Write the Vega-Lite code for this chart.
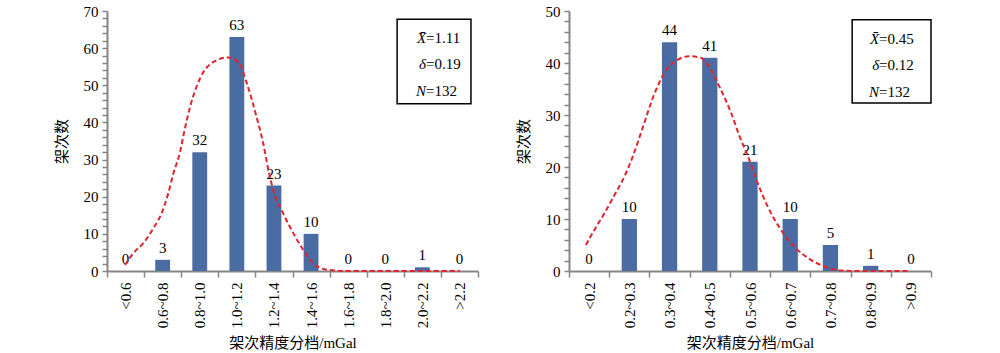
{
  "$schema": "https://vega.github.io/schema/vega-lite/v6.json",
  "padding": {"left": 54, "top": 4, "right": 70, "bottom": 0},
  "background": "white",
  "spacing": 37,
  "config": {
    "view": {"stroke": null},
    "font": "Liberation Serif",
    "axis": {
      "labelFont": "Liberation Serif",
      "labelFontSize": 15,
      "labelColor": "black",
      "labelOverlap": false,
      "titleFont": "Liberation Serif, Noto Sans CJK SC",
      "titleFontSize": 15,
      "titleFontWeight": "normal",
      "titleColor": "black",
      "domainColor": "#868686",
      "domainWidth": 2,
      "tickColor": "#868686",
      "tickWidth": 1.5,
      "grid": false
    }
  },
  "hconcat": [
    {
      "width": 371,
      "height": 260,
      "resolve": {"scale": {"x": "independent"}},
      "layer": [
        {
          "data": {"values": [
            {"bin": "<0.6", "count": 0},
            {"bin": "0.6~0.8", "count": 3},
            {"bin": "0.8~1.0", "count": 32},
            {"bin": "1.0~1.2", "count": 63},
            {"bin": "1.2~1.4", "count": 23},
            {"bin": "1.4~1.6", "count": 10},
            {"bin": "1.6~1.8", "count": 0},
            {"bin": "1.8~2.0", "count": 0},
            {"bin": "2.0~2.2", "count": 1},
            {"bin": ">2.2", "count": 0}
          ]},
          "encoding": {
            "x": {"field": "bin", "type": "nominal", "sort": null,
                  "scale": {"paddingInner": 0, "paddingOuter": 0},
                  "axis": {"title": "架次精度分档/mGal", "labelAngle": -90, "tickBand": "extent", "tickSize": 6, "labelPadding": 5, "titlePadding": 8}},
            "y": {"field": "count", "type": "quantitative", "title": "架次数",
                  "scale": {"domain": [0, 70], "nice": false},
                  "axis": {"values": [0,2,4,6,8,10,12,14,16,18,20,22,24,26,28,30,32,34,36,38,40,42,44,46,48,50,52,54,56,58,60,62,64,66,68,70],
                           "tickCount": 100,
                           "labelExpr": "datum.value % 10 == 0 ? format(datum.value, 'd') : ''", "tickSize": 5, "labelPadding": 4, "titlePadding": 14}}
          },
          "layer": [
            {"mark": {"type": "bar", "width": {"band": 0.4}, "color": "#4A6CA3"}},
            {"mark": {"type": "text", "baseline": "bottom", "dy": -4, "fontSize": 15, "font": "Liberation Serif", "color": "black"},
             "encoding": {"text": {"field": "count", "type": "quantitative"}}}
          ]
        },
        {
          "layer": [
            {
              "data": {"values": [
                {"pos": 0.485, "count": 1.6}, {"pos": 0.71, "count": 4.8}, {"pos": 0.98, "count": 7.5},
                {"pos": 1.25, "count": 11.5}, {"pos": 1.47, "count": 15.5}, {"pos": 1.65, "count": 20.9},
                {"pos": 1.79, "count": 26.3}, {"pos": 1.97, "count": 32.1}, {"pos": 2.06, "count": 36.5},
                {"pos": 2.24, "count": 44.2}, {"pos": 2.51, "count": 51.9}, {"pos": 2.87, "count": 56.3},
                {"pos": 3.27, "count": 57.5}, {"pos": 3.54, "count": 56.3}, {"pos": 3.77, "count": 50.5},
                {"pos": 4.03, "count": 41.5}, {"pos": 4.21, "count": 34.4}, {"pos": 4.35, "count": 27.2},
                {"pos": 4.48, "count": 21.8}, {"pos": 4.75, "count": 15.5}, {"pos": 5.02, "count": 10.2},
                {"pos": 5.29, "count": 5.7}, {"pos": 5.61, "count": 1.6}, {"pos": 5.96, "count": 0.3},
                {"pos": 6.5, "count": 0}, {"pos": 9.51, "count": 0}
              ]},
              "mark": {"type": "line", "interpolate": "monotone", "color": "#E0262C", "strokeWidth": 2, "strokeDash": [5, 3]},
              "encoding": {
                "x": {"field": "pos", "type": "quantitative", "scale": {"domain": [0, 10], "nice": false, "zero": false}, "axis": null},
                "y": {"field": "count", "type": "quantitative", "title": "架次数", "scale": {"domain": [0, 70], "nice": false}}
              }
            },
            {
              "data": {"values": [{"pos": 7.82, "pos2": 9.81, "count": 67.8, "count2": 45.0}]},
              "mark": {"type": "rect", "fill": "white", "stroke": "black", "strokeWidth": 1.5},
              "encoding": {
                "x": {"field": "pos", "type": "quantitative", "scale": {"domain": [0, 10], "nice": false, "zero": false}, "axis": null},
                "x2": {"field": "pos2"},
                "y": {"field": "count", "type": "quantitative", "title": "架次数", "scale": {"domain": [0, 70], "nice": false}},
                "y2": {"field": "count2"}
              }
            },
            {
              "data": {"values": [
                {"pos": 8.6, "count": 62.7, "sym": "X̄", "rest": "=1.11"},
                {"pos": 8.6, "count": 55.7, "sym": "δ", "rest": "=0.19"},
                {"pos": 8.6, "count": 48.5, "sym": "N", "rest": "=132"}
              ]},
              "encoding": {
                "x": {"field": "pos", "type": "quantitative", "scale": {"domain": [0, 10], "nice": false, "zero": false}, "axis": null},
                "y": {"field": "count", "type": "quantitative", "title": "架次数", "scale": {"domain": [0, 70], "nice": false}}
              },
              "layer": [
                {"mark": {"type": "text", "align": "right", "baseline": "middle", "fontSize": 15, "fontStyle": "italic", "font": "Liberation Serif", "color": "black"},
                 "encoding": {"text": {"field": "sym"}}},
                {"mark": {"type": "text", "align": "left", "baseline": "middle", "fontSize": 15, "font": "Liberation Serif", "color": "black"},
                 "encoding": {"text": {"field": "rest"}}}
              ]
            }
          ]
        }
      ]
    },
    {
      "width": 362,
      "height": 260,
      "resolve": {"scale": {"x": "independent"}},
      "layer": [
        {
          "data": {"values": [
            {"bin": "<0.2", "count": 0},
            {"bin": "0.2~0.3", "count": 10},
            {"bin": "0.3~0.4", "count": 44},
            {"bin": "0.4~0.5", "count": 41},
            {"bin": "0.5~0.6", "count": 21},
            {"bin": "0.6~0.7", "count": 10},
            {"bin": "0.7~0.8", "count": 5},
            {"bin": "0.8~0.9", "count": 1},
            {"bin": ">0.9", "count": 0}
          ]},
          "encoding": {
            "x": {"field": "bin", "type": "nominal", "sort": null,
                  "scale": {"paddingInner": 0, "paddingOuter": 0},
                  "axis": {"title": "架次精度分档/mGal", "labelAngle": -90, "tickBand": "extent", "tickSize": 6, "labelPadding": 5, "titlePadding": 8}},
            "y": {"field": "count", "type": "quantitative", "title": "架次数",
                  "scale": {"domain": [0, 50], "nice": false},
                  "axis": {"values": [0,2,4,6,8,10,12,14,16,18,20,22,24,26,28,30,32,34,36,38,40,42,44,46,48,50],
                           "tickCount": 100,
                           "labelExpr": "datum.value % 10 == 0 ? format(datum.value, 'd') : ''", "tickSize": 5, "labelPadding": 4, "titlePadding": 14}}
          },
          "layer": [
            {"mark": {"type": "bar", "width": {"band": 0.38}, "color": "#4A6CA3"}},
            {"mark": {"type": "text", "baseline": "bottom", "dy": -4, "fontSize": 15, "font": "Liberation Serif", "color": "black"},
             "encoding": {"text": {"field": "count", "type": "quantitative"}}}
          ]
        },
        {
          "layer": [
            {
              "data": {"values": [
                {"pos": 0.42, "count": 5.0}, {"pos": 0.63, "count": 7.9}, {"pos": 0.88, "count": 11.1},
                {"pos": 1.13, "count": 14.6}, {"pos": 1.38, "count": 18.2}, {"pos": 1.58, "count": 21.9},
                {"pos": 1.83, "count": 27.5}, {"pos": 2.12, "count": 34.0}, {"pos": 2.37, "count": 38.1},
                {"pos": 2.7, "count": 40.6}, {"pos": 2.99, "count": 41.3}, {"pos": 3.28, "count": 41.0},
                {"pos": 3.53, "count": 38.7}, {"pos": 3.78, "count": 34.8}, {"pos": 4.03, "count": 30.4},
                {"pos": 4.24, "count": 25.9}, {"pos": 4.45, "count": 22.0}, {"pos": 4.67, "count": 17.3},
                {"pos": 4.94, "count": 12.4}, {"pos": 5.27, "count": 7.9}, {"pos": 5.6, "count": 4.7},
                {"pos": 6.02, "count": 2.1}, {"pos": 6.44, "count": 0.65}, {"pos": 6.77, "count": 0.1},
                {"pos": 7.2, "count": 0}, {"pos": 8.47, "count": 0}
              ]},
              "mark": {"type": "line", "interpolate": "monotone", "color": "#E0262C", "strokeWidth": 2, "strokeDash": [5, 3]},
              "encoding": {
                "x": {"field": "pos", "type": "quantitative", "scale": {"domain": [0, 9], "nice": false, "zero": false}, "axis": null},
                "y": {"field": "count", "type": "quantitative", "title": "架次数", "scale": {"domain": [0, 50], "nice": false}}
              }
            },
            {
              "data": {"values": [{"pos": 7.04, "pos2": 9.0, "count": 48.3, "count2": 32.3}]},
              "mark": {"type": "rect", "fill": "white", "stroke": "black", "strokeWidth": 1.5},
              "encoding": {
                "x": {"field": "pos", "type": "quantitative", "scale": {"domain": [0, 9], "nice": false, "zero": false}, "axis": null},
                "x2": {"field": "pos2"},
                "y": {"field": "count", "type": "quantitative", "title": "架次数", "scale": {"domain": [0, 50], "nice": false}},
                "y2": {"field": "count2"}
              }
            },
            {
              "data": {"values": [
                {"pos": 7.71, "count": 44.7, "sym": "X̄", "rest": "=0.45"},
                {"pos": 7.71, "count": 39.6, "sym": "δ", "rest": "=0.12"},
                {"pos": 7.71, "count": 34.4, "sym": "N", "rest": "=132"}
              ]},
              "encoding": {
                "x": {"field": "pos", "type": "quantitative", "scale": {"domain": [0, 9], "nice": false, "zero": false}, "axis": null},
                "y": {"field": "count", "type": "quantitative", "title": "架次数", "scale": {"domain": [0, 50], "nice": false}}
              },
              "layer": [
                {"mark": {"type": "text", "align": "right", "baseline": "middle", "fontSize": 15, "fontStyle": "italic", "font": "Liberation Serif", "color": "black"},
                 "encoding": {"text": {"field": "sym"}}},
                {"mark": {"type": "text", "align": "left", "baseline": "middle", "fontSize": 15, "font": "Liberation Serif", "color": "black"},
                 "encoding": {"text": {"field": "rest"}}}
              ]
            }
          ]
        }
      ]
    }
  ]
}
